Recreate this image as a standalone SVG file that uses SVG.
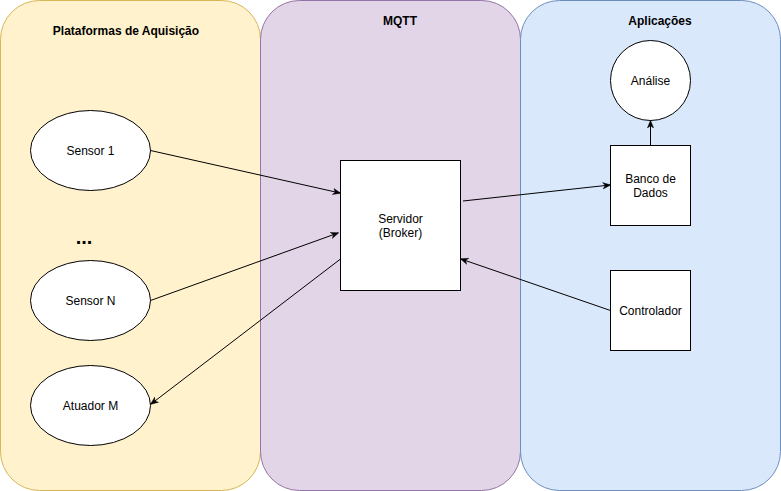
<svg xmlns="http://www.w3.org/2000/svg" width="781" height="491" viewBox="0 0 781 491">
<style>
text{font-family:"Liberation Sans",Arial,sans-serif;font-size:12px;fill:#000;text-anchor:middle}
.t{font-weight:bold}
.n{fill:#fff;stroke:#000;stroke-width:1}
.c{fill:none;stroke:#000;stroke-width:1}
</style>
<defs>
<marker id="a" viewBox="0 0 10 10" refX="9" refY="5" markerWidth="8" markerHeight="8" markerUnits="userSpaceOnUse" orient="auto">
<path d="M0,1 L10,5 L0,9 L3,5 z" fill="#000" stroke="#000" stroke-width="0.5"/>
</marker>
</defs>
<g id="panel-aquisicao">
<rect x="0.5" y="0.5" width="260" height="490" rx="39" ry="39" fill="#fff2cc" stroke="#d6b656"/>
<text class="t" x="126" y="35">Plataformas de Aquisição</text>
</g>
<g id="panel-mqtt">
<rect x="260.5" y="0.5" width="260" height="490" rx="39" ry="39" fill="#e1d5e7" stroke="#9673a6"/>
<text class="t" x="400" y="25">MQTT</text>
</g>
<g id="panel-aplicacoes">
<rect x="520.5" y="0.5" width="260" height="490" rx="39" ry="39" fill="#dae8fc" stroke="#6c8ebf"/>
<text class="t" x="660" y="25">Aplicações</text>
</g>
<g id="sensor1">
<ellipse class="n" cx="90.5" cy="150.5" rx="60" ry="40"/>
<text x="90.5" y="155">Sensor 1</text>
</g>
<g id="dots">
<text x="84" y="244" style="font-size:20px;font-weight:bold">...</text>
</g>
<g id="sensorN">
<ellipse class="n" cx="90.5" cy="300.5" rx="60" ry="40"/>
<text x="90.5" y="305">Sensor N</text>
</g>
<g id="atuadorM">
<ellipse class="n" cx="90.5" cy="405.5" rx="60" ry="40"/>
<text x="90.5" y="410">Atuador M</text>
</g>
<g id="servidor">
<rect class="n" x="340.5" y="160.5" width="120" height="130"/>
<text x="400.5" y="223">Servidor</text>
<text x="400.5" y="237">(Broker)</text>
</g>
<g id="analise">
<circle class="n" cx="650.5" cy="80.5" r="40"/>
<text x="650.5" y="85">Análise</text>
</g>
<g id="banco">
<rect class="n" x="610.5" y="145.5" width="80" height="80"/>
<text x="650.5" y="183">Banco de</text>
<text x="650.5" y="197">Dados</text>
</g>
<g id="controlador">
<rect class="n" x="610.5" y="270.5" width="80" height="80"/>
<text x="650.5" y="315">Controlador</text>
</g>
<g id="connectors">
<line class="c" x1="150.5" y1="150.5" x2="340" y2="193" marker-end="url(#a)"/>
<line class="c" x1="150.5" y1="300.5" x2="338" y2="233" marker-end="url(#a)"/>
<line class="c" x1="340.5" y1="259" x2="151" y2="404" marker-end="url(#a)"/>
<line class="c" x1="463" y1="201" x2="610" y2="185" marker-end="url(#a)"/>
<line class="c" x1="650.5" y1="145.5" x2="650.5" y2="121" marker-end="url(#a)"/>
<line class="c" x1="610.5" y1="310.5" x2="461" y2="259" marker-end="url(#a)"/>
</g>
</svg>
